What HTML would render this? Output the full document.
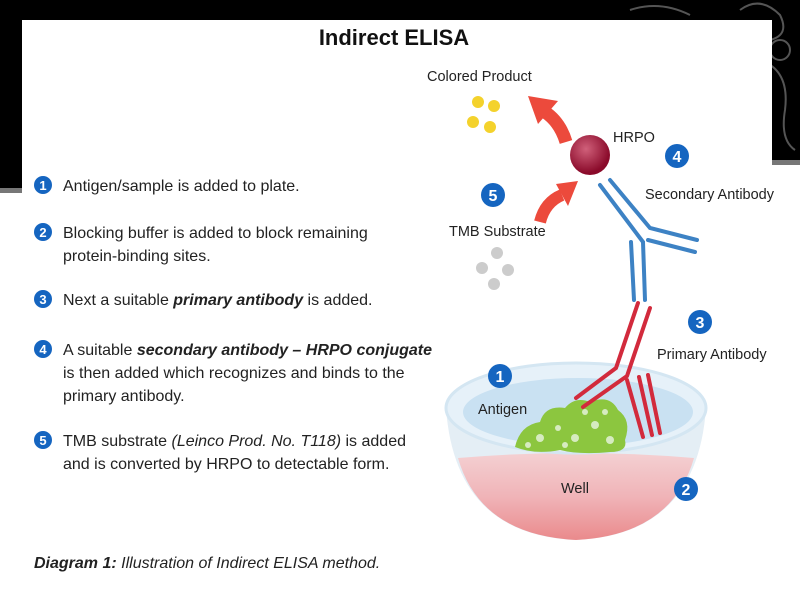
<!DOCTYPE html>
<html><head><style>
body{margin:0;width:800px;height:600px;overflow:hidden;background:#fff;font-family:"Liberation Sans",sans-serif}
</style></head><body>
<svg width="800" height="600" viewBox="0 0 800 600" xmlns="http://www.w3.org/2000/svg" font-family="Liberation Sans, sans-serif">
<defs>
<radialGradient id="hr" cx="0.4" cy="0.35" r="0.6"><stop offset="0" stop-color="#d0607a"/><stop offset="1" stop-color="#8a0a2a"/></radialGradient>
<linearGradient id="liq" x1="0" y1="0" x2="0" y2="1"><stop offset="0" stop-color="#f4d0d2"/><stop offset="0.5" stop-color="#f0b4b8"/><stop offset="1" stop-color="#ea8a8c"/></linearGradient>
</defs>
<rect x="0" y="0" width="800" height="190" fill="#000"/>
<rect x="0" y="188" width="22" height="5" fill="#777"/>
<rect x="772" y="160" width="28" height="5" fill="#777"/>
<rect x="772" y="165" width="28" height="30" fill="#fff"/>
<g stroke="#555" fill="none" stroke-width="2"><path d="M740 10 q20 -15 40 5 q10 20 -10 25"/><circle cx="780" cy="50" r="10"/><path d="M760 60 q30 10 25 50 q-5 30 10 40"/><path d="M630 10 q30 -10 60 5"/></g>
<rect x="22" y="20" width="750" height="580" fill="#fff"/>
<text x="394" y="45" font-size="22" font-weight="bold" text-anchor="middle" fill="#111">Indirect ELISA</text>
<g font-size="16" fill="#222">
<circle cx="43" cy="185" r="9" fill="#1565c0"/><text x="43" y="190" font-size="13" font-weight="bold" fill="#fff" text-anchor="middle">1</text>
<text x="63" y="191">Antigen/sample is added to plate.</text>
<circle cx="43" cy="232" r="9" fill="#1565c0"/><text x="43" y="237" font-size="13" font-weight="bold" fill="#fff" text-anchor="middle">2</text>
<text x="63" y="238">Blocking buffer is added to block remaining</text><text x="63" y="261">protein-binding sites.</text>
<circle cx="43" cy="299" r="9" fill="#1565c0"/><text x="43" y="304" font-size="13" font-weight="bold" fill="#fff" text-anchor="middle">3</text>
<text x="63" y="305">Next a suitable <tspan font-weight="bold" font-style="italic">primary antibody</tspan> is added.</text>
<circle cx="43" cy="349" r="9" fill="#1565c0"/><text x="43" y="354" font-size="13" font-weight="bold" fill="#fff" text-anchor="middle">4</text>
<text x="63" y="355">A suitable <tspan font-weight="bold" font-style="italic">secondary antibody – HRPO conjugate</tspan></text>
<text x="63" y="378">is then added which recognizes and binds to the</text><text x="63" y="401">primary antibody.</text>
<circle cx="43" cy="440" r="9" fill="#1565c0"/><text x="43" y="445" font-size="13" font-weight="bold" fill="#fff" text-anchor="middle">5</text>
<text x="63" y="446">TMB substrate <tspan font-style="italic">(Leinco Prod. No. T118)</tspan> is added</text>
<text x="63" y="469">and is converted by HRPO to detectable form.</text>
<text x="34" y="568" font-size="16"><tspan font-weight="bold" font-style="italic">Diagram 1:</tspan><tspan font-style="italic"> Illustration of Indirect ELISA method.</tspan></text>
</g>
<!-- bowl -->
<path d="M446 408 Q455 535 576 540 Q697 535 706 408 Z" fill="#e4eef5"/>
<path d="M458 458 Q480 535 576 540 Q672 535 694 458 Q576 448 458 458Z" fill="url(#liq)"/>
<ellipse cx="576" cy="408" rx="130" ry="45" fill="#e6f1f9" stroke="#d4e6f2" stroke-width="3"/>
<ellipse cx="578" cy="412" rx="115" ry="34" fill="#c9e1f2"/>
<!-- antigen blob -->
<path d="M515 447 Q520 425 540 422 Q545 405 565 408 Q575 396 590 402 Q610 394 618 410 Q632 420 625 440 Q628 452 610 452 Q580 455 560 450 Q535 455 515 447Z" fill="#8cc63f"/>
<g fill="#d6ebc0"><circle cx="540" cy="438" r="4"/><circle cx="558" cy="428" r="3"/><circle cx="575" cy="438" r="4"/><circle cx="595" cy="425" r="4"/><circle cx="610" cy="440" r="4"/><circle cx="585" cy="412" r="3"/><circle cx="528" cy="445" r="3"/><circle cx="605" cy="412" r="3"/><circle cx="565" cy="445" r="3"/></g>
<!-- primary antibody -->
<g stroke="#d22a3c" stroke-width="4" fill="none" stroke-linecap="round">
<path d="M638 303 L616 368 L576 398"/><path d="M650 308 L627 376 L583 407"/>
<path d="M627 380 L643 437"/><path d="M639 377 L652 435"/><path d="M648 375 L660 433"/>
</g>
<!-- secondary antibody -->
<g stroke="#3d82c4" stroke-width="4" fill="none" stroke-linecap="round">
<path d="M600 185 L643 242 L645 300"/>
<path d="M610 180 L650 228 L697 240"/>
<path d="M648 240 L695 252"/>
<path d="M631 242 L634 300"/>
</g>
<circle cx="590" cy="155" r="20" fill="url(#hr)"/>
<!-- arrows -->
<path d="M566 142 Q560 122 545 112" stroke="#ec4a3c" stroke-width="13" fill="none"/>
<polygon points="528,96 558,101 538,124" fill="#ec4a3c"/>
<path d="M540 222 Q545 202 562 195" stroke="#ec4a3c" stroke-width="12" fill="none"/>
<polygon points="578,181 556,184 568,206" fill="#ec4a3c"/>
<g fill="#f4d22c"><circle cx="478" cy="102" r="6"/><circle cx="494" cy="106" r="6"/><circle cx="473" cy="122" r="6"/><circle cx="490" cy="127" r="6"/></g>
<g fill="#ccc"><circle cx="497" cy="253" r="6"/><circle cx="482" cy="268" r="6"/><circle cx="508" cy="270" r="6"/><circle cx="494" cy="284" r="6"/></g>
<g font-size="14.5" fill="#222">
<text x="427" y="81">Colored Product</text>
<text x="613" y="142">HRPO</text>
<text x="645" y="199">Secondary Antibody</text>
<text x="449" y="236">TMB Substrate</text>
<text x="657" y="359">Primary Antibody</text>
<text x="478" y="414">Antigen</text>
<text x="561" y="493">Well</text>
</g>
<g font-weight="bold" font-size="16" fill="#fff" text-anchor="middle">
<circle cx="677" cy="156" r="12" fill="#1565c0"/><text x="677" y="162">4</text>
<circle cx="493" cy="195" r="12" fill="#1565c0"/><text x="493" y="201">5</text>
<circle cx="700" cy="322" r="12" fill="#1565c0"/><text x="700" y="328">3</text>
<circle cx="500" cy="376" r="12" fill="#1565c0"/><text x="500" y="382">1</text>
<circle cx="686" cy="489" r="12" fill="#1565c0"/><text x="686" y="495">2</text>
</g>
</svg>
</body></html>
